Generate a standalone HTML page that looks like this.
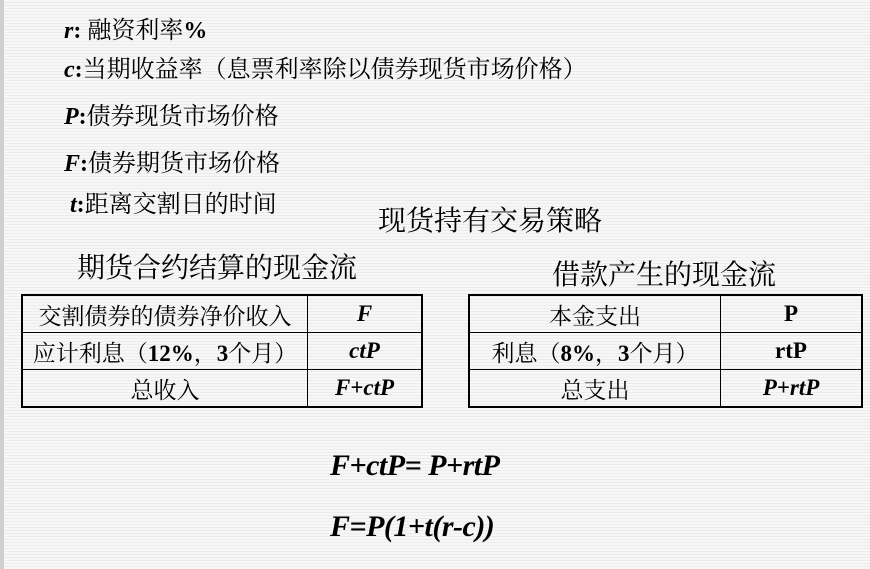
<!DOCTYPE html>
<html><head><meta charset="utf-8"><style>
body{margin:0;width:870px;height:569px;overflow:hidden;position:relative;
background:repeating-linear-gradient(#f7f7f7 0 2px,#ececec 2px 3px);
font-family:"Liberation Serif","Noto Serif CJK SC",serif;color:#000}
.strip{position:absolute;left:0;top:0;width:4px;height:569px;background:#cfcfcf}
.t{position:absolute;white-space:nowrap;line-height:1}
.l{font-size:24px}
.l i,.f{font-weight:bold;font-style:italic}
.h{font-size:28px}
table{position:absolute;border-collapse:collapse;border:2.5px solid #000;font-size:23px}
td{border:1px solid #000;text-align:center;padding:0;height:36px;background:transparent}
.f{font-family:"Liberation Serif",serif}
.b{font-weight:bold;font-family:"Liberation Serif",serif}
</style></head><body>
<div class="strip"></div>
<div class="t l" style="left:64px;top:19px"><i>r</i><b>:</b> 融资利率<b>%</b></div>
<div class="t l" style="left:64px;top:58px"><i>c</i><b>:</b>当期收益率（息票利率除以债券现货市场价格）</div>
<div class="t l" style="left:64px;top:105px"><i>P</i><b>:</b>债券现货市场价格</div>
<div class="t l" style="left:64px;top:152px"><i>F</i><b>:</b>债券期货市场价格</div>
<div class="t l" style="left:70px;top:193px"><i>t</i><b>:</b>距离交割日的时间</div>
<div class="t h" style="left:378px;top:208px">现货持有交易策略</div>
<div class="t h" style="left:77px;top:255px">期货合约结算的现金流</div>
<div class="t h" style="left:552px;top:262px">借款产生的现金流</div>
<table style="left:21px;top:294px;width:402px">
<tr><td style="width:284px">交割债券的债券净价收入</td><td class="f">F</td></tr>
<tr><td>应计利息（<b class="b">12%</b>，<b class="b">3</b>个月）</td><td class="f">ctP</td></tr>
<tr><td>总收入</td><td class="f">F+ctP</td></tr>
</table>
<table style="left:468px;top:294px;width:395px">
<tr><td style="width:250px">本金支出</td><td class="b">P</td></tr>
<tr><td>利息（<b class="b">8%</b>，<b class="b">3</b>个月）</td><td class="b">rtP</td></tr>
<tr><td>总支出</td><td class="f">P+rtP</td></tr>
</table>
<div class="t f" style="left:330px;top:451px;font-size:30px;letter-spacing:-0.5px">F+ctP= P+rtP</div>
<div class="t f" style="left:330px;top:512px;font-size:30px;letter-spacing:-0.5px">F=P(1+t(r-c))</div>
</body></html>
